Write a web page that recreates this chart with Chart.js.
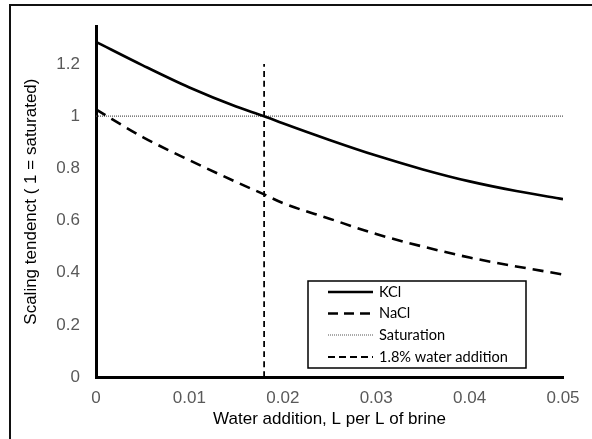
<!DOCTYPE html>
<html>
<head>
<meta charset="utf-8">
<script src="https://cdn.jsdelivr.net/npm/chart.js@4.4.1/dist/chart.umd.min.js"></script>
<style>
  html, body { margin: 0; padding: 0; background: #fff; }
  #wrap { position: relative; width: 592px; height: 439px; }
</style>
</head>
<body>
<div id="wrap"><canvas id="c" width="592" height="439"></canvas></div>
<script>
// ---- data ----
const waterX   = [0, 0.005, 0.01, 0.015, 0.018, 0.02, 0.025, 0.03, 0.035, 0.04, 0.045, 0.05];
const kclY     = [1.285, 1.195, 1.11, 1.037, 1.0, 0.973, 0.909, 0.849, 0.796, 0.750, 0.713, 0.682];
const naclY    = [1.026, 0.92, 0.831, 0.748, 0.7, 0.667, 0.607, 0.548, 0.50, 0.458, 0.424, 0.393];
const saturationX = [0, 0.05];
const saturationY = [1, 1];
const additionX = [0.018, 0.018];
const additionY = [0, 1.2];
const seriesNames = ['KCl', 'NaCl', 'Saturation', '1.8% water addition'];
const xTicks = [0, 0.01, 0.02, 0.03, 0.04, 0.05];
const yTicks = [0, 0.2, 0.4, 0.6, 0.8, 1, 1.2];
const xTitle = 'Water addition, L per L of brine';
const yTitle = 'Scaling tendenct ( 1 = saturated)';

const pts = (xs, ys) => xs.map((x, i) => ({x: x, y: ys[i]}));

const styles = [
  {color: '#000', width: 2.6, dash: [], legendDash: []},
  {color: '#000', width: 2.6, dash: [11, 7], legendDash: [10, 6]},
  {color: '#555', width: 1.2, dash: [1, 1], legendDash: [1, 1]},
  {color: '#000', width: 1.8, dash: [6, 4], legendDash: [7, 4]}
];

const frame = {
  id: 'frame',
  beforeDraw(chart) {
    const ctx = chart.ctx;
    ctx.save();
    ctx.strokeStyle = '#111';
    ctx.lineWidth = 2;
    ctx.beginPath();
    ctx.moveTo(10, 439);
    ctx.lineTo(10, 5);
    ctx.lineTo(592, 5);
    ctx.stroke();
    ctx.restore();
  }
};

const boxLegend = {
  id: 'boxLegend',
  afterDraw(chart) {
    const ctx = chart.ctx;
    const bx = 308, by = 281, bw = 218, bh = 87;
    ctx.save();
    ctx.fillStyle = '#fff';
    ctx.fillRect(bx, by, bw, bh);
    ctx.strokeStyle = '#000';
    ctx.lineWidth = 1.5;
    ctx.strokeRect(bx, by, bw, bh);
    ctx.font = '14.6px Lato, "Liberation Sans", sans-serif';
    ctx.textBaseline = 'middle';
    ctx.textAlign = 'left';
    const rowY = [292, 313.5, 335, 357];
    seriesNames.forEach((name, i) => {
      const s = styles[i];
      ctx.strokeStyle = s.color;
      ctx.lineWidth = s.width;
      ctx.setLineDash(s.legendDash);
      ctx.beginPath();
      ctx.moveTo(328, rowY[i]);
      ctx.lineTo(373, rowY[i]);
      ctx.stroke();
      ctx.setLineDash([]);
      ctx.fillStyle = '#000';
      ctx.fillText(name, 379, rowY[i]);
    });
    ctx.restore();
  }
};

const mkSet = (label, data, s) => ({
  label: label,
  data: data,
  borderColor: s.color,
  borderWidth: s.width,
  borderDash: s.dash,
  pointRadius: 0,
  fill: false,
  cubicInterpolationMode: 'monotone',
  tension: 0.4
});

new Chart(document.getElementById('c'), {
  type: 'line',
  data: {
    datasets: [
      mkSet(seriesNames[0], pts(waterX, kclY), styles[0]),
      mkSet(seriesNames[1], pts(waterX, naclY), styles[1]),
      mkSet(seriesNames[2], pts(saturationX, saturationY), styles[2]),
      mkSet(seriesNames[3], pts(additionX, additionY), styles[3])
    ]
  },
  options: {
    responsive: false,
    animation: false,
    devicePixelRatio: 1,
    layout: {padding: {left: 0, right: 29, top: 26, bottom: 0}},
    plugins: {legend: {display: false}, tooltip: {enabled: false}},
    scales: {
      x: {
        type: 'linear',
        min: 0, max: 0.05,
        afterFit(s) { s.height = 62; },
        afterBuildTicks(s) { s.ticks = xTicks.map(v => ({value: v})); },
        grid: {display: false, drawTicks: false},
        border: {display: true, color: '#000', width: 3},
        ticks: {
          padding: 11,
          color: '#595959',
          font: {family: '"Liberation Sans", Arial, sans-serif', size: 17},
          callback: v => String(Number(v.toFixed(2)))
        },
        title: {
          display: true, text: xTitle, color: '#000',
          font: {family: '"Liberation Sans", Arial, sans-serif', size: 17},
          padding: {top: 0, bottom: 9}
        }
      },
      y: {
        type: 'linear',
        min: 0, max: 1.345,
        afterFit(s) { s.width = 96; },
        afterBuildTicks(s) { s.ticks = yTicks.map(v => ({value: v})); },
        grid: {display: false, drawTicks: false},
        border: {display: true, color: '#000', width: 3},
        ticks: {
          padding: 16,
          color: '#595959',
          font: {family: '"Liberation Sans", Arial, sans-serif', size: 17},
          callback: v => String(Number(v.toFixed(1)))
        },
        title: {
          display: true, text: yTitle, color: '#000',
          font: {family: '"Liberation Sans", Arial, sans-serif', size: 17},
          padding: {top: 21, bottom: 0}
        }
      }
    }
  },
  plugins: [frame, boxLegend]
});
</script>
</body>
</html>
